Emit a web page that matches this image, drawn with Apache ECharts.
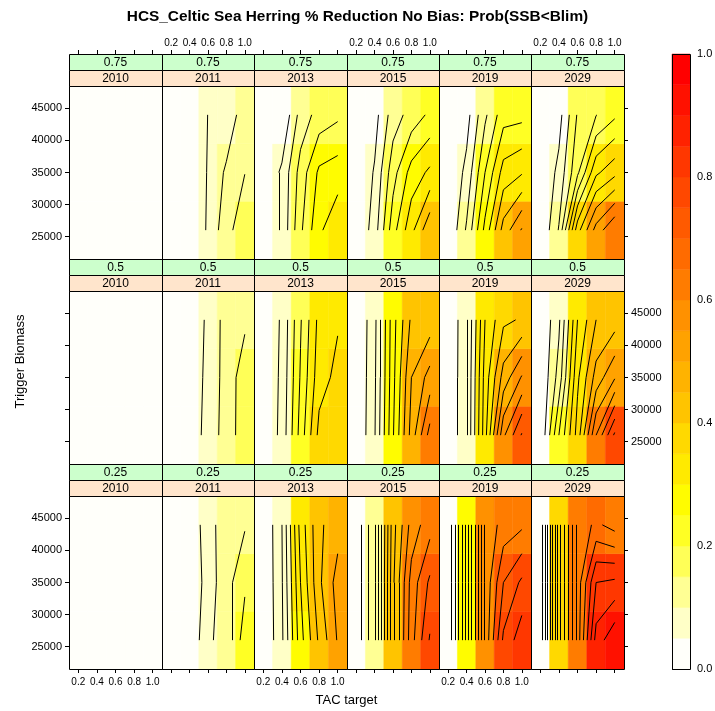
<!DOCTYPE html>
<html><head><meta charset="utf-8">
<script src="https://cdn.jsdelivr.net/npm/echarts@6/dist/echarts.min.js"></script>
<style>html,body{margin:0;padding:0;background:#fff}#c{width:715px;height:711px}</style>
</head><body><div id="c"></div>
<script>
// ---------------- data ----------------
const titleText = 'HCS_Celtic Sea Herring % Reduction No Bias: Prob(SSB<Blim)';
const xLabel = 'TAC target';
const yLabel = 'Trigger Biomass';
const years = ['2010', '2011', '2013', '2015', '2019', '2029'];
const reductions = ['0.75', '0.5', '0.25'];
const tacTargets = [0.2, 0.4, 0.6, 0.8, 1.0];
const triggerBiomass = [26000, 35000, 44000];
const xTickValues = [0.2, 0.4, 0.6, 0.8, 1.0];
const yTickValues = [25000, 30000, 35000, 40000, 45000];
const keyTickValues = [0, 0.2, 0.4, 0.6, 0.8, 1.0];
const levelBreaks = [0, 0.05, 0.1, 0.15, 0.2, 0.25, 0.3, 0.35, 0.4, 0.45, 0.5,
  0.55, 0.6, 0.65, 0.7, 0.75, 0.8, 0.85, 0.9, 0.95, 1.0];
const levelColors = ['#FFFFFA', '#FFFFC7', '#FFFF94', '#FFFF57', '#FFFF24', '#FFFC00', '#FFEA00',
  '#FFD900', '#FFC400', '#FFB300', '#FFA200', '#FF9100', '#FF7C00', '#FF6B00', '#FF5A00',
  '#FF4800', '#FF3700', '#FF2200', '#FF1100', '#FF0000'];

// Prob(SSB<Blim); rows follow triggerBiomass (26000, 35000, 44000), columns follow tacTargets
const p075_2010 = [[0, 0, 0, 0, 0], [0, 0, 0, 0, 0], [0, 0, 0, 0, 0]];
const p075_2011 = [[0, 0, 0.057, 0.133, 0.182], [0, 0, 0.054, 0.109, 0.149], [0, 0, 0.051, 0.0625, 0.13]];
const p075_2013 = [[0, 0.06, 0.19, 0.29, 0.34], [0, 0.06, 0.17, 0.26, 0.275], [0, 0, 0.12, 0.17, 0.19]];
const p075_2015 = [[0, 0.074, 0.23, 0.335, 0.44], [0, 0.055, 0.18, 0.27, 0.31], [0, 0.03, 0.125, 0.17, 0.21]];
const p075_2019 = [[0, 0.107, 0.264, 0.42, 0.505], [0, 0.064, 0.2, 0.32, 0.345], [0, 0.03, 0.14, 0.23, 0.235]];
const p075_2029 = [[0, 0.104, 0.38, 0.52, 0.6], [0, 0.064, 0.19, 0.34, 0.385], [0, 0.03, 0.155, 0.198, 0.24]];

const p050_2010 = [[0, 0, 0, 0, 0], [0, 0, 0, 0, 0], [0, 0, 0, 0, 0]];
const p050_2011 = [[0, 0, 0.079, 0.115, 0.185], [0, 0, 0.07, 0.117, 0.18], [0, 0, 0.063, 0.119, 0.14]];
const p050_2013 = [[0, 0.066, 0.22, 0.365, 0.39], [0, 0.062, 0.205, 0.33, 0.363], [0, 0.058, 0.195, 0.316, 0.345]];
const p050_2015 = [[0, 0.095, 0.295, 0.47, 0.62], [0, 0.09, 0.285, 0.45, 0.52], [0, 0.085, 0.28, 0.41, 0.42]];
const p050_2019 = [[0, 0.098, 0.33, 0.59, 0.705], [0, 0.097, 0.32, 0.47, 0.555], [0, 0.094, 0.3, 0.39, 0.405]];
const p050_2029 = [[0, 0.2, 0.37, 0.6, 0.76], [0, 0.12, 0.34, 0.47, 0.545], [0, 0.09, 0.3, 0.4, 0.425]];

const p025_2010 = [[0, 0, 0, 0, 0], [0, 0, 0, 0, 0], [0, 0, 0, 0, 0]];
const p025_2011 = [[0, 0, 0.095, 0.112, 0.23], [0, 0, 0.075, 0.13, 0.19], [0, 0, 0.087, 0.118, 0.145]];
const p025_2013 = [[0, 0.09, 0.28, 0.41, 0.505], [0, 0.095, 0.3, 0.44, 0.52], [0, 0.099, 0.32, 0.44, 0.48]];
const p025_2015 = [[0.02, 0.14, 0.44, 0.63, 0.755], [0.02, 0.14, 0.44, 0.62, 0.71], [0.02, 0.14, 0.43, 0.57, 0.63]];
const p025_2019 = [[0, 0.27, 0.56, 0.76, 0.83], [0, 0.27, 0.56, 0.7, 0.76], [0, 0.27, 0.56, 0.62, 0.64]];
const p025_2029 = [[0, 0.38, 0.62, 0.87, 0.94], [0, 0.38, 0.62, 0.8, 0.81], [0, 0.38, 0.62, 0.66, 0.63]];

const panelRows = [
  [p075_2010, p075_2011, p075_2013, p075_2015, p075_2019, p075_2029],
  [p050_2010, p050_2011, p050_2013, p050_2015, p050_2019, p050_2029],
  [p025_2010, p025_2011, p025_2013, p025_2015, p025_2019, p025_2029]
];

// ---------------- layout ----------------
const FONT = '"Liberation Sans", Arial, Helvetica, sans-serif';
const colLeft = [69, 162, 254, 347, 439, 531];
const panelRight = 624;
const rowTop = [54, 259, 464];
const stripH = 16;
const panelH = 173;
const colW = c => (c < colLeft.length - 1 ? colLeft[c + 1] : panelRight) - colLeft[c];

const xHalf = (tacTargets[1] - tacTargets[0]) / 2;
const yHalf = (triggerBiomass[1] - triggerBiomass[0]) / 2;
const xMin = tacTargets[0] - xHalf, xMax = tacTargets[tacTargets.length - 1] + xHalf;
const yMin = triggerBiomass[0] - yHalf, yMax = triggerBiomass[triggerBiomass.length - 1] + yHalf;

function colorFor(v) {
  for (let i = 0; i < levelColors.length; i++) {
    if (v < levelBreaks[i + 1] || i === levelColors.length - 1) return levelColors[i];
  }
  return levelColors[levelColors.length - 1];
}

function contourSegs(z) {
  const segs = [];
  const levels = levelBreaks.slice(1, -1);
  for (let j = 0; j < triggerBiomass.length - 1; j++) {
    for (let i = 0; i < tacTargets.length - 1; i++) {
      const x0 = tacTargets[i], x1 = tacTargets[i + 1];
      const y0 = triggerBiomass[j], y1 = triggerBiomass[j + 1];
      const v00 = z[j][i], v10 = z[j][i + 1], v11 = z[j + 1][i + 1], v01 = z[j + 1][i];
      for (const L of levels) {
        const pts = [];
        const edge = (xa, ya, va, xb, yb, vb) => {
          if ((va >= L) !== (vb >= L)) {
            const t = (L - va) / (vb - va);
            pts.push([xa + t * (xb - xa), ya + t * (yb - ya)]);
          }
        };
        edge(x0, y0, v00, x1, y0, v10);
        edge(x1, y0, v10, x1, y1, v11);
        edge(x1, y1, v11, x0, y1, v01);
        edge(x0, y1, v01, x0, y0, v00);
        if (pts.length === 2) segs.push([pts[0], pts[1]]);
        else if (pts.length === 4) {
          const c = (v00 + v10 + v11 + v01) / 4;
          if ((c >= L) === (v00 >= L)) { segs.push([pts[0], pts[1]]); segs.push([pts[2], pts[3]]); }
          else { segs.push([pts[0], pts[3]]); segs.push([pts[1], pts[2]]); }
        }
      }
    }
  }
  return segs;
}

const grids = [], xAxes = [], yAxes = [], series = [], graphics = [];
const tickStyle = { color: '#000', width: 1 };

panelRows.forEach((row, r) => {
  row.forEach((z, c) => {
    const k = grids.length;
    const left = colLeft[c], w = colW(c), top = rowTop[r] + 2 * stripH;
    grids.push({ left: left, top: top, width: w, height: panelH, show: false, containLabel: false, outerBoundsMode: 'none' });
    const xTicks = (r === 0 || r === panelRows.length - 1);
    const xLabels = (r === 0 && c % 2 === 1) || (r === panelRows.length - 1 && c % 2 === 0);
    xAxes.push({
      gridIndex: k, type: 'value', min: xMin, max: xMax, show: xTicks,
      position: r === 0 ? 'top' : 'bottom', offset: r === 0 ? 2 * stripH : 0,
      axisLine: { show: false }, splitLine: { show: false },
      axisTick: { show: xTicks, inside: false, length: 4, lineStyle: tickStyle, customValues: xTickValues },
      axisLabel: { show: xLabels, customValues: xTickValues, formatter: v => v.toFixed(1),
        margin: r === 0 ? 6 : 8, fontSize: 10, fontFamily: FONT, color: '#000' }
    });
    const yTicks = (c === 0 || c === row.length - 1);
    const yLabels = (c === 0 && r !== 1) || (c === row.length - 1 && r === 1);
    yAxes.push({
      gridIndex: k, type: 'value', min: yMin, max: yMax, show: yTicks,
      position: c === 0 ? 'left' : 'right',
      axisLine: { show: false }, splitLine: { show: false },
      axisTick: { show: yTicks, inside: false, length: 4, lineStyle: tickStyle, customValues: yTickValues },
      axisLabel: { show: yLabels, customValues: yTickValues, formatter: v => String(v),
        margin: 7, fontSize: 11, fontFamily: FONT, color: '#000' }
    });
    const cells = [];
    triggerBiomass.forEach((y, j) => tacTargets.forEach((x, i) => cells.push([x, y, z[j][i]])));
    series.push({
      type: 'custom', coordinateSystem: 'cartesian2d', xAxisIndex: k, yAxisIndex: k,
      data: cells, encode: { x: 0, y: 1 }, silent: true, animation: false, clip: true, z: 1,
      renderItem: (params, api) => {
        const x = api.value(0), y = api.value(1), v = api.value(2);
        const p0 = api.coord([x - xHalf, y + yHalf]);
        const p1 = api.coord([x + xHalf, y - yHalf]);
        const col = colorFor(v);
        return { type: 'rect', shape: { x: p0[0], y: p0[1], width: p1[0] - p0[0], height: p1[1] - p0[1] },
          style: { fill: col, stroke: col, lineWidth: 0.5 } };
      }
    });
    series.push({
      type: 'lines', coordinateSystem: 'cartesian2d', xAxisIndex: k, yAxisIndex: k,
      polyline: false, silent: true, animation: false, z: 3,
      data: contourSegs(z).map(s => ({ coords: s })),
      lineStyle: { color: '#000', width: 1, opacity: 1 }
    });
    // strips
    graphics.push({ type: 'rect', z: 50, shape: { x: left + 0.5, y: rowTop[r] + 0.5, width: w, height: stripH },
      style: { fill: '#CCFFCC', stroke: '#000', lineWidth: 1 } });
    graphics.push({ type: 'rect', z: 50, shape: { x: left + 0.5, y: rowTop[r] + stripH + 0.5, width: w, height: stripH },
      style: { fill: '#FFE5CC', stroke: '#000', lineWidth: 1 } });
    graphics.push({ type: 'text', z: 51, x: left + w / 2, y: rowTop[r] + stripH / 2 + 1,
      style: { text: reductions[r], font: '12px ' + FONT, fill: '#000', textAlign: 'center', textVerticalAlign: 'middle', align: 'center', verticalAlign: 'middle' } });
    graphics.push({ type: 'text', z: 51, x: left + w / 2, y: rowTop[r] + stripH * 1.5 + 1,
      style: { text: years[c], font: '12px ' + FONT, fill: '#000', textAlign: 'center', textVerticalAlign: 'middle', align: 'center', verticalAlign: 'middle' } });
    // panel border
    graphics.push({ type: 'rect', z: 60, shape: { x: left + 0.5, y: top + 0.5, width: w, height: panelH },
      style: { fill: 'none', stroke: '#000', lineWidth: 1 } });
  });
});

// colour key
const keyLeft = 672, keyTop = 54, keyW = 18, keyH = 615;
const kIdx = grids.length;
grids.push({ left: keyLeft, top: keyTop, width: keyW, height: keyH, show: false, containLabel: false, outerBoundsMode: 'none' });
xAxes.push({ gridIndex: kIdx, type: 'value', min: 0, max: 1, show: false });
yAxes.push({
  gridIndex: kIdx, type: 'value', min: levelBreaks[0], max: levelBreaks[levelBreaks.length - 1], position: 'right',
  axisLine: { show: false }, splitLine: { show: false },
  axisTick: { show: true, inside: false, length: 4, lineStyle: tickStyle, customValues: keyTickValues },
  axisLabel: { show: true, customValues: keyTickValues, formatter: v => v.toFixed(1), margin: 7, fontSize: 11, fontFamily: FONT, color: '#000' }
});
series.push({
  type: 'custom', coordinateSystem: 'cartesian2d', xAxisIndex: kIdx, yAxisIndex: kIdx,
  data: levelColors.map((col, i) => [levelBreaks[i], levelBreaks[i + 1], i]),
  encode: { y: [0, 1] }, silent: true, animation: false,
  renderItem: (params, api) => {
    const lo = api.value(0), hi = api.value(1), col = levelColors[api.value(2)];
    const p0 = api.coord([0, hi]), p1 = api.coord([1, lo]);
    return { type: 'rect', shape: { x: p0[0], y: p0[1], width: p1[0] - p0[0], height: p1[1] - p0[1] },
      style: { fill: col, stroke: col, lineWidth: 0.5 } };
  }
});
graphics.push({ type: 'rect', z: 60, shape: { x: keyLeft + 0.5, y: keyTop + 0.5, width: keyW, height: keyH },
  style: { fill: 'none', stroke: '#000', lineWidth: 1 } });

// axis titles
graphics.push({ type: 'text', z: 60, x: (colLeft[0] + panelRight) / 2, y: 700,
  style: { text: xLabel, font: '13px ' + FONT, fill: '#000', textAlign: 'center', textVerticalAlign: 'middle', align: 'center', verticalAlign: 'middle' } });
graphics.push({ type: 'text', z: 60, x: 20, y: (rowTop[0] + rowTop[2] + 2 * stripH + panelH) / 2, rotation: Math.PI / 2,
  style: { text: yLabel, font: '13px ' + FONT, fill: '#000', textAlign: 'center', textVerticalAlign: 'middle', align: 'center', verticalAlign: 'middle' } });

const chart = echarts.init(document.getElementById('c'), null, { renderer: 'canvas' });
chart.setOption({
  backgroundColor: '#fff',
  animation: false,
  title: { text: titleText, left: 'center', top: 4,
    textStyle: { fontSize: 15.4, fontWeight: 'bold', fontFamily: FONT, color: '#000' } },
  grid: grids, xAxis: xAxes, yAxis: yAxes, series: series, graphic: graphics
});
</script></body></html>
